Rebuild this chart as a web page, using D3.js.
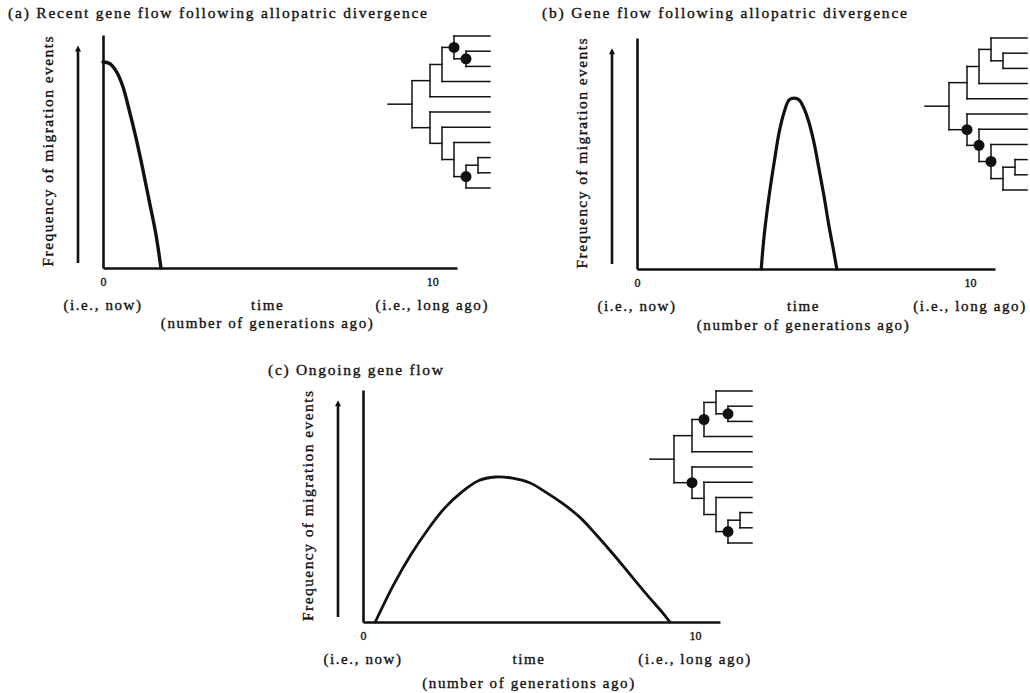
<!DOCTYPE html>
<html>
<head>
<meta charset="utf-8">
<script src="https://cdn.jsdelivr.net/npm/d3@7"></script>
<style>
  body { margin: 0; background: #fff; }
  text { font-family: 'Liberation Serif', 'Times New Roman', serif; fill: #111; stroke: #111; stroke-width: 0.35px; }
</style>
</head>
<body>
<script>
const width = 1030
const height = 693

// curves: generations ago -> relative frequency of migration events
const timeA = [0, 0.2, 0.4, 0.6, 0.8, 1.0, 1.2, 1.4, 1.6, 1.76]
const freqA = [0.884, 0.878, 0.845, 0.78, 0.675, 0.56, 0.43, 0.29, 0.15, 0]

const timeB = [3.73, 3.82, 3.97, 4.12, 4.27, 4.42, 4.57, 4.72, 4.87, 5.01, 5.16, 5.31, 5.46, 5.61, 5.76, 5.91, 6.0]
const freqB = [0, 0.147, 0.32, 0.463, 0.593, 0.68, 0.732, 0.74, 0.732, 0.697, 0.636, 0.55, 0.437, 0.32, 0.19, 0.074, 0]

const timeC = [0.37, 0.92, 1.44, 1.96, 2.45, 2.97, 3.49, 3.98, 4.5, 5.02, 5.5, 6.02, 6.54, 7.03, 7.55, 8.07, 8.56, 9.08, 9.24]
const freqC = [0, 0.16, 0.29, 0.4, 0.49, 0.56, 0.61, 0.625, 0.62, 0.6, 0.56, 0.51, 0.45, 0.375, 0.29, 0.2, 0.116, 0.03, 0]

const xTickValues = [0, 10]
const xTickLabels = ['0', '10']
const xTickNotes = ['(i.e., now)', '(i.e., long ago)']
const xTitle = 'time'
const xNote = '(number of generations ago)'
const yTitle = 'Frequency of migration events'

// same cladogram in every panel; the marked nodes differ
const cladogram = { id: 'root', children: [
  { id: 'u1', children: [
    { id: 'u2', children: [
      { id: 'u3', children: [ { id: 't1' }, { id: 'u4', children: [ { id: 't2' }, { id: 't3' } ] } ] },
      { id: 't4' } ] },
    { id: 't5' } ] },
  { id: 'l1', children: [
    { id: 't6' },
    { id: 'l2', children: [
      { id: 't7' },
      { id: 'l3', children: [
        { id: 't8' },
        { id: 'l4', children: [ { id: 'l5', children: [ { id: 't9' }, { id: 't10' } ] }, { id: 't11' } ] } ] } ] } ] }
] }

const marksA = ['u3', 'u4', 'l4']
const marksB = ['l1', 'l2', 'l3']
const marksC = ['u2', 'u4', 'l1', 'l4']

const panels = [
  { title: '(a) Recent gene flow following allopatric divergence', titleX: 8, titleY: 18, titleW: 419,
    ox: 103, oy: 268, w: 354, h: 233, time: timeA, freq: freqA, lw: 3.4,
    treeX: 388, treeY: 36, marks: marksA, noteDy: 60 },
  { title: '(b) Gene flow following allopatric divergence', titleX: 542, titleY: 18, titleW: 365,
    ox: 637, oy: 269, w: 358, h: 231, time: timeB, freq: freqB, lw: 3.2,
    treeX: 925, treeY: 38, marks: marksB, noteDy: 61 },
  { title: '(c) Ongoing gene flow', titleX: 268, titleY: 375, titleW: 175,
    ox: 363, oy: 622, w: 357, h: 232, time: timeC, freq: freqC, lw: 2.8,
    treeX: 650, treeY: 391, marks: marksC, noteDy: 66 }
]

const ink = '#111'
const leafGap = 15.2
const treeW = 102
const depthX = d3.scaleLinear().domain([0, 1, 5]).range([24, 42, 90])

const svg = d3.select('body')
  .append('svg')
    .attr('width', width)
    .attr('height', height)

svg.append('defs').html('<marker id="head" viewBox="0 0 10 10" refX="4" refY="5"' +
  ' markerUnits="userSpaceOnUse" markerWidth="7" markerHeight="6" orient="auto">' +
  '<path d="M 0 0 L 10 5 L 0 10 z" fill="' + ink + '"/></marker>')

function drawTree(g, marks) {
  const root = d3.hierarchy(cladogram)
  let i = 0
  root.eachBefore(n => { if (!n.children) n.y = leafGap * i++ })
  root.eachAfter(n => {
    if (n.children) {
      n.x = depthX(n.depth)
      n.y = (n.children[0].y + n.children[n.children.length - 1].y) / 2
    } else {
      n.x = treeW
    }
  })

  const lines = g.append('g')
    .attr('stroke', ink)
    .attr('stroke-width', 1.5)
    .attr('stroke-linecap', 'square')
    .attr('fill', 'none')

  lines.append('path').attr('d', 'M0,' + root.y + 'H' + root.x)

  root.descendants().filter(n => n.children).forEach(n => {
    const kids = n.children
    lines.append('path')
      .attr('d', 'M' + n.x + ',' + kids[0].y + 'V' + kids[kids.length - 1].y)
    kids.forEach(k => {
      lines.append('path').attr('d', 'M' + n.x + ',' + k.y + 'H' + k.x)
    })
  })

  g.selectAll('circle')
    .data(root.descendants().filter(n => marks.includes(n.data.id)))
    .join('circle')
      .attr('cx', n => n.x)
      .attr('cy', n => n.y)
      .attr('r', 5.5)
      .attr('fill', ink)
}

panels.forEach(p => {
  const x = d3.scaleLinear().domain([0, 10.75]).range([0, p.w])
  const y = d3.scaleLinear().domain([0, 1]).range([0, -p.h])

  svg.append('text')
    .attr('x', p.titleX)
    .attr('y', p.titleY)
    .attr('font-size', 15.5)
    .attr('textLength', p.titleW)
    .attr('lengthAdjust', 'spacing')
    .text(p.title)

  const g = svg.append('g')
    .attr('transform', 'translate(' + [p.ox, p.oy] + ')')

  // curve first so the axis line sits on top of its foot
  const line = d3.line()
    .x((d, i) => x(p.time[i]))
    .y(d => y(d))
    .curve(d3.curveCatmullRom.alpha(0.5))

  g.append('path')
    .attr('d', line(p.freq))
    .attr('fill', 'none')
    .attr('stroke', ink)
    .attr('stroke-width', p.lw)
    .attr('stroke-linejoin', 'round')
    .attr('stroke-linecap', 'round')

  const ax = g.append('g')
    .call(d3.axisBottom(x)
      .tickValues(xTickValues)
      .tickFormat((d, i) => xTickLabels[i])
      .tickSize(0)
      .tickSizeOuter(0)
      .tickPadding(9))
  ax.attr('font-family', null)
  ax.select('.domain').attr('stroke', ink).attr('stroke-width', 2.6)
  ax.selectAll('text')
    .attr('font-size', 12)
    .attr('fill', ink)

  const ay = g.append('g')
    .call(d3.axisLeft(y).tickValues([]).tickSizeOuter(0))
  ay.select('.domain').attr('stroke', ink).attr('stroke-width', 2.6)

  g.selectAll('.note')
    .data(xTickValues)
    .join('text')
      .attr('class', 'note')
      .attr('x', d => x(d))
      .attr('y', 42)
      .attr('font-size', 15)
      .attr('letter-spacing', 1.6)
      .attr('text-anchor', 'middle')
      .text((d, i) => xTickNotes[i])

  g.append('text')
    .attr('x', x(5))
    .attr('y', 42)
    .attr('font-size', 15)
    .attr('letter-spacing', 1.6)
    .attr('text-anchor', 'middle')
    .text(xTitle)

  g.append('text')
    .attr('x', x(5))
    .attr('y', p.noteDy)
    .attr('font-size', 15)
    .attr('letter-spacing', 1.6)
    .attr('text-anchor', 'middle')
    .text(xNote)

  // upward arrow and rotated label
  g.append('line')
    .attr('x1', -25).attr('x2', -25)
    .attr('y1', -5).attr('y2', y(0.94))
    .attr('stroke', ink)
    .attr('stroke-width', 2.6)
    .attr('marker-end', 'url(#head)')

  g.append('text')
    .attr('transform', 'translate(-50,' + (-p.h / 2) + ')rotate(-90)')
    .attr('font-size', 15.5)
    .attr('text-anchor', 'middle')
    .attr('textLength', 230)
    .attr('lengthAdjust', 'spacing')
    .text(yTitle)

  drawTree(svg.append('g').attr('transform', 'translate(' + [p.treeX, p.treeY] + ')'), p.marks)
})
</script>
</body>
</html>
